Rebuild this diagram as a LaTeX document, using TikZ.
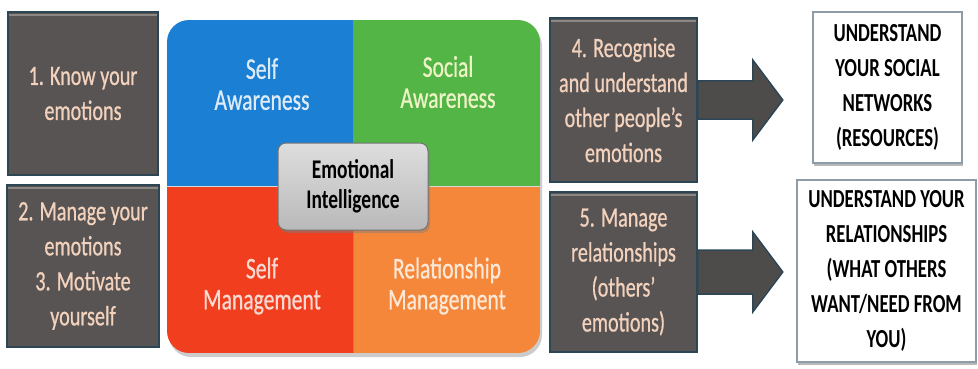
\documentclass[tikz,border=0pt]{standalone}
\usepackage{fontspec}
\setmainfont{Carlito}
\newfontfamily\plainfont{Carlito}[FakeStretch=0.72, FakeBold=0.7]
\newfontfamily\heavyfont{Carlito}[FakeStretch=0.72]
\usetikzlibrary{calc,shadows}

\definecolor{boxgray}{HTML}{575453}
\definecolor{boxedge}{HTML}{2C4656}
\definecolor{boxtop}{HTML}{8A8785}
\definecolor{peach}{HTML}{F3D2BD}
\definecolor{qblue}{HTML}{1B7FD3}
\definecolor{qgreen}{HTML}{52B546}
\definecolor{qred}{HTML}{F03E1E}
\definecolor{qorange}{HTML}{F5873A}
\definecolor{tblue}{HTML}{DCEBF6}
\definecolor{tgreen}{HTML}{EEF3C6}
\definecolor{tred}{HTML}{F9DAD2}
\definecolor{torange}{HTML}{FDE8D8}
\definecolor{eitop}{HTML}{DEDEDE}
\definecolor{eibot}{HTML}{B9B9B9}
\definecolor{outedge}{HTML}{8C9CA8}

\tikzset{
  darkbox/.style={draw=boxedge, fill=boxgray, line width=1.5pt, text=peach,
    align=center, inner sep=0pt, font=\plainfont\fontsize{28}{35}\selectfont,
    path picture={\draw[boxtop, line width=1.5pt]
      ([yshift=-3pt]path picture bounding box.north west) --
      ([yshift=-3pt]path picture bounding box.north east);}},
  quadtext/.style={align=center, inner sep=0pt, font=\plainfont\fontsize{30}{31}\selectfont},
  eibox/.style={draw=black!55, line width=1pt, rounded corners=8pt,
    top color=eitop, bottom color=eibot, align=center, inner sep=0pt,
    font=\heavyfont\bfseries\fontsize{27}{30}\selectfont,
    drop shadow={shadow xshift=2pt, shadow yshift=-3pt, opacity=.45}},
  outbox/.style={draw=outedge, line width=1.2pt, fill=white, align=center,
    inner sep=0pt, font=\heavyfont\bfseries\fontsize{26}{35}\selectfont,
    drop shadow={shadow xshift=1pt, shadow yshift=-3pt, fill=gray!70, opacity=.8}},
  blockarrow/.style={draw=boxedge, fill=boxgray!90!black, line width=1.5pt, line join=miter}
}

\begin{document}
\begin{tikzpicture}[x=1pt, y=-1pt]
\useasboundingbox (0,0) rectangle (978,369);

% the four-part square
\node[minimum width=373pt, minimum height=333pt, inner sep=0pt, rounded corners=22pt,
      drop shadow={shadow xshift=2pt, shadow yshift=-4pt, opacity=.4},
      path picture={
        \begin{scope}[sharp corners]
        \fill[qblue] (path picture bounding box.north west) rectangle (path picture bounding box.center);
        \fill[qgreen] (path picture bounding box.north east) rectangle (path picture bounding box.center);
        \fill[qred] (path picture bounding box.south west) rectangle (path picture bounding box.center);
        \fill[qorange] (path picture bounding box.south east) rectangle (path picture bounding box.center);
        \draw[black!45, line width=1.2pt] (path picture bounding box.north) -- (path picture bounding box.south);
        \draw[white!85!black, line width=1.2pt] (path picture bounding box.west) -- (path picture bounding box.east);
        \end{scope}
      }] (grid) at (353.5,186.5) {};

\node[quadtext, text=tblue] (sa) at (262,84) {Self\\Awareness};
\node[quadtext, text=tgreen] (soc) at (448,82) {Social\\Awareness};
\node[quadtext, text=tred] (sm) at (262,286) {Self\\Management};
\node[quadtext, text=torange] (rm) at (447,286) {Relationship\\Management};

\node[eibox, minimum width=150pt, minimum height=87pt] (ei) at (353,186.5)
  {Emotional\\Intelligence};

% left column
\node[darkbox, minimum width=150pt, minimum height=163pt] (k1) at (83,93.5)
  {1. Know your\\emotions};
\node[darkbox, minimum width=152pt, minimum height=162pt] (k2) at (83,266)
  {2. Manage your\\emotions\\3. Motivate\\yourself};

% right column
\node[darkbox, minimum width=147pt, minimum height=164pt] (k4) at (623.5,100)
  {4. Recognise\\and understand\\other people’s\\emotions};
\node[darkbox, minimum width=147pt, minimum height=160pt] (k5) at (623.5,272)
  {5. Manage\\relationships\\(others’\\emotions)};

% block arrows
\draw[blockarrow] ($(k4.east)+(0,-19)$) -- ++(55,0) -- ++(0,-21) -- ($(k4.east)+(85,0)$)
  -- ($(k4.east)+(55,40)$) -- ++(0,-21) -- ($(k4.east)+(0,19)$) -- cycle;
\draw[blockarrow] ($(k5.east)+(0,-22)$) -- ++(55,0) -- ++(0,-18) -- ($(k5.east)+(85,0)$)
  -- ($(k5.east)+(55,40)$) -- ++(0,-18) -- ($(k5.east)+(0,22)$) -- cycle;

% outcomes
\node[outbox, minimum width=149pt, minimum height=151pt] (o1) at (887.5,87.5)
  {UNDERSTAND\\YOUR SOCIAL\\NETWORKS\\(RESOURCES)};
\node[outbox, minimum width=179pt, minimum height=182pt] (o2) at (886.5,271)
  {UNDERSTAND YOUR\\RELATIONSHIPS\\(WHAT OTHERS\\WANT/NEED FROM\\YOU)};
\end{tikzpicture}
\end{document}
